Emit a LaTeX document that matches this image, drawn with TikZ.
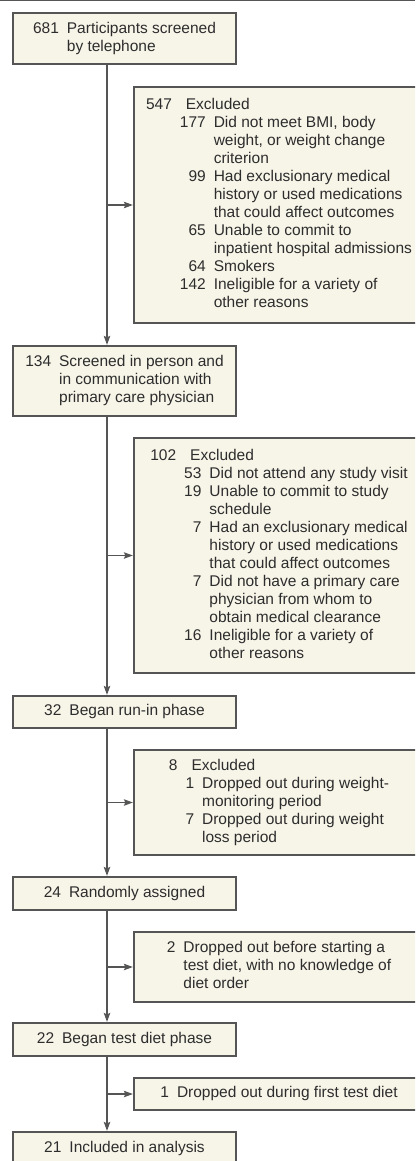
\documentclass[tikz,border=0pt]{standalone}
\usepackage{fontspec}
\setmainfont{Liberation Sans}
\usetikzlibrary{arrows.meta, positioning}
\definecolor{boxfill}{RGB}{247,244,232}
\definecolor{boxline}{RGB}{85,85,85}
\definecolor{txt}{RGB}{45,45,45}
\tikzstyle{flowbox} = [rectangle, draw=boxline, fill=boxfill, line width=1.1pt, inner sep=0pt, text=txt, font=\fontsize{15.5}{18}\selectfont]
\tikzstyle{leftbox} = [flowbox, minimum width=223pt]
\tikzstyle{rightbox} = [flowbox, minimum width=290pt]
\tikzstyle{arrow} = [line width=1.1pt, draw=boxline, -{Stealth[length=9pt, width=6.5pt, inset=1.5pt]}, shorten >=0.6pt]
\newcommand{\counted}[1]{\begin{tabular}{@{}r@{\hspace{8pt}}l@{}}#1\end{tabular}}
\newcommand{\breakdown}[1]{\begin{tabular}{@{}r@{\hspace{8pt}}r@{\hspace{8pt}}l@{}}#1\end{tabular}}

\begin{document}
\begin{tikzpicture}[x=1pt, y=-1pt]
      \useasboundingbox (0,0) rectangle (415,1161);
      \clip (0,0) rectangle (415,1161);
      \draw[boxline, line width=1.5pt] (0,0.75) -- (415,0.75);
      \coordinate (trunk) at (107,0);

      \node[leftbox, minimum height=51pt] (screen) at (124.5,38.5) {\counted{681 & Participants screened\\ & by telephone}};
      \node[rightbox, minimum height=236pt] (excl1) at (279,205) {\breakdown{547 & \multicolumn{2}{l@{}}{Excluded}\\
        & 177 & Did not meet BMI, body\\
        & & weight, or weight change\\
        & & criterion\\
        & 99 & Had exclusionary medical\\
        & & history or used medications\\
        & & that could affect outcomes\\
        & 65 & Unable to commit to\\
        & & inpatient hospital admissions\\
        & 64 & Smokers\\
        & 142 & Ineligible for a variety of\\
        & & other reasons}};
      \node[leftbox, minimum height=70pt] (person) at (124.5,381) {\counted{134 & Screened in person and\\ & in communication with\\ & primary care physician}};
      \node[rightbox, minimum height=235pt] (excl2) at (279,555.5) {\breakdown{102 & \multicolumn{2}{l@{}}{Excluded}\\
        & 53 & Did not attend any study visit\\
        & 19 & Unable to commit to study\\
        & & schedule\\
        & 7 & Had an exclusionary medical\\
        & & history or used medications\\
        & & that could affect outcomes\\
        & 7 & Did not have a primary care\\
        & & physician from whom to\\
        & & obtain medical clearance\\
        & 16 & Ineligible for a variety of\\
        & & other reasons}};
      \node[leftbox, minimum height=32pt] (runin) at (124.5,712) {\counted{32 & Began run-in phase}};
      \node[rightbox, minimum height=105pt] (excl3) at (279,802.5) {\breakdown{8 & \multicolumn{2}{l@{}}{Excluded}\\
        & 1 & Dropped out during weight-\\
        & & monitoring period\\
        & 7 & Dropped out during weight\\
        & & loss period}};
      \node[leftbox, minimum height=33pt] (random) at (124.5,893.5) {\counted{24 & Randomly assigned}};
      \node[rightbox, minimum height=70pt] (drop1) at (279,967) {\counted{2 & Dropped out before starting a\\ & test diet, with no knowledge of\\ & diet order}};
      \node[leftbox, minimum height=33pt] (diet) at (124.5,1039.5) {\counted{22 & Began test diet phase}};
      \node[rightbox, minimum height=32pt] (drop2) at (279,1094) {\counted{1 & Dropped out during first test diet}};
      \node[leftbox, minimum height=34pt] (analysis) at (124.5,1149) {\counted{21 & Included in analysis}};

      \draw[arrow] (screen.south -| trunk) -- (person.north -| trunk);
      \draw[arrow] (excl1.west -| trunk) -- (excl1.west);
      \draw[arrow] (person.south -| trunk) -- (runin.north -| trunk);
      \draw[arrow] (excl2.west -| trunk) -- (excl2.west);
      \draw[arrow] (runin.south -| trunk) -- (random.north -| trunk);
      \draw[arrow] (excl3.west -| trunk) -- (excl3.west);
      \draw[arrow] (random.south -| trunk) -- (diet.north -| trunk);
      \draw[arrow] (drop1.west -| trunk) -- (drop1.west);
      \draw[arrow] (diet.south -| trunk) -- (analysis.north -| trunk);
      \draw[arrow] (drop2.west -| trunk) -- (drop2.west);
    \end{tikzpicture}
\end{document}
